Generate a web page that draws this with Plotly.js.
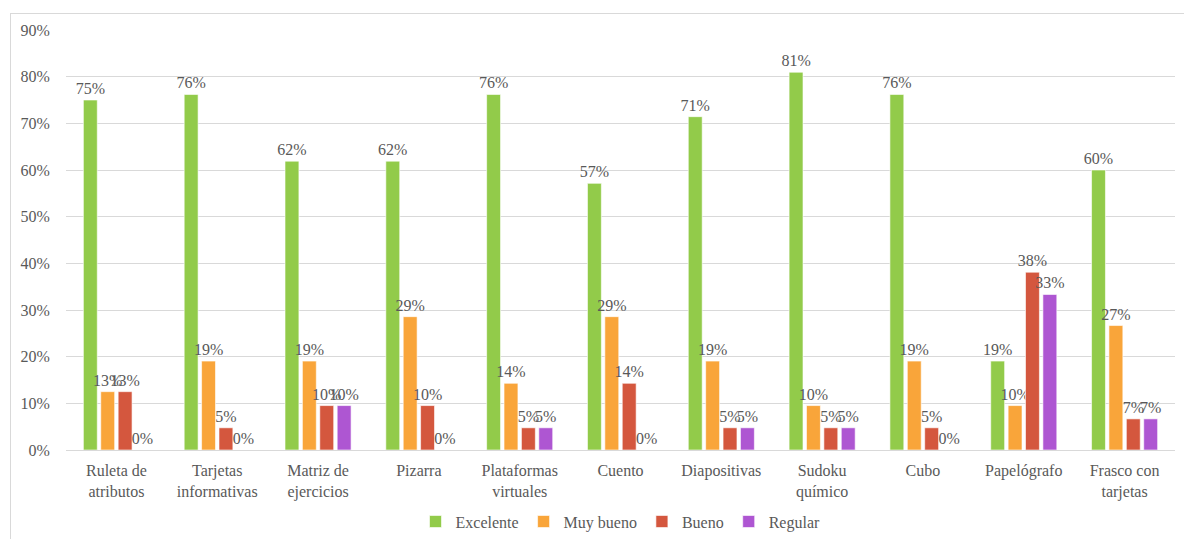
<!DOCTYPE html>
<html>
<head>
<meta charset="utf-8">
<script src="https://cdn.plot.ly/plotly-3.0.1.min.js"></script>
<style>
html,body{margin:0;padding:0;background:#fff;}
#wrap{position:relative;width:1184px;height:539px;overflow:hidden;}
#chart{position:absolute;left:0;top:0;width:1184px;height:539px;}
#frame{position:absolute;left:10px;top:13px;width:1190px;height:540px;border:1px solid #d9d9d9;pointer-events:none;}
#chart text{font-family:"Liberation Serif","DejaVu Serif",serif !important;}
</style>
</head>
<body>
<div id="wrap"><div id="chart"></div><div id="frame"></div></div>
<script>
const categories = ["Ruleta de<br>atributos","Tarjetas<br>informativas","Matriz de<br>ejercicios","Pizarra","Plataformas<br>virtuales","Cuento","Diapositivas","Sudoku<br>químico","Cubo","Papelógrafo","Frasco con<br>tarjetas"];
const excelente = [75, 76.19, 61.9, 61.9, 76.19, 57.14, 71.43, 80.95, 76.19, 19.05, 60];
const muyBueno  = [12.5, 19.05, 19.05, 28.57, 14.29, 28.57, 19.05, 9.52, 19.05, 9.52, 26.67];
const bueno     = [12.5, 4.76, 9.52, 9.52, 4.76, 14.29, 4.76, 4.76, 4.76, 38.1, 6.67];
const regular   = [0, 0, 9.52, 0, 4.76, 0, 4.76, 4.76, 0, 33.33, 6.67];
const seriesNames = ["Excelente","Muy bueno","Bueno","Regular"];
const colors = ["#92CB4A","#F9A53A","#D4573E","#AE56D2"];
const yTicks = [0,10,20,30,40,50,60,70,80,90];

const font = {family: 'Liberation Serif', color: '#595959'};
const f = s => Object.assign({size: s}, font);
const data = [excelente, muyBueno, bueno, regular].map((vals, i) => ({
  type: 'bar',
  name: seriesNames[i],
  x: categories,
  y: vals,
  marker: {color: colors[i], line: {color: 'rgba(255,255,255,0.6)', width: 1}},
  text: vals.map(v => Math.round(v) + '%'),
  textposition: 'outside',
  textfont: f(16),
  constraintext: 'none',
  cliponaxis: false,
  hoverinfo: 'none'
}));

const layout = {
  width: 1184, height: 539,
  margin: {l: 66, r: 9, t: 30, b: 89, autoexpand: false},
  paper_bgcolor: 'rgba(0,0,0,0)',
  plot_bgcolor: '#fff',
  barmode: 'group',
  bargap: 0.31,
  bargroupgap: 0.2,
  font: f(16),
  showlegend: true,
  legend: {orientation: 'h', x: 0.5, xanchor: 'center', y: -0.13, yanchor: 'top',
           font: f(16), itemwidth: 30, traceorder: 'normal'},
  xaxis: {
    type: 'category',
    showgrid: false,
    showline: true, linecolor: '#d9d9d9', linewidth: 1,
    ticks: 'outside', ticklen: 6, tickcolor: 'rgba(0,0,0,0)',
    tickfont: f(16),
    tickangle: 0
  },
  yaxis: {
    range: [0, 90],
    tickvals: yTicks,
    ticktext: yTicks.map(v => v + '%'),
    showgrid: true, gridcolor: '#d9d9d9', gridwidth: 1,
    zeroline: true, zerolinecolor: '#d9d9d9', zerolinewidth: 1,
    showline: false,
    ticks: 'outside', ticklen: 12, tickcolor: 'rgba(0,0,0,0)',
    tickfont: f(16)
  }
};

Plotly.newPlot('chart', data, layout, {displayModeBar: false, staticPlot: true});
</script>
</body>
</html>
